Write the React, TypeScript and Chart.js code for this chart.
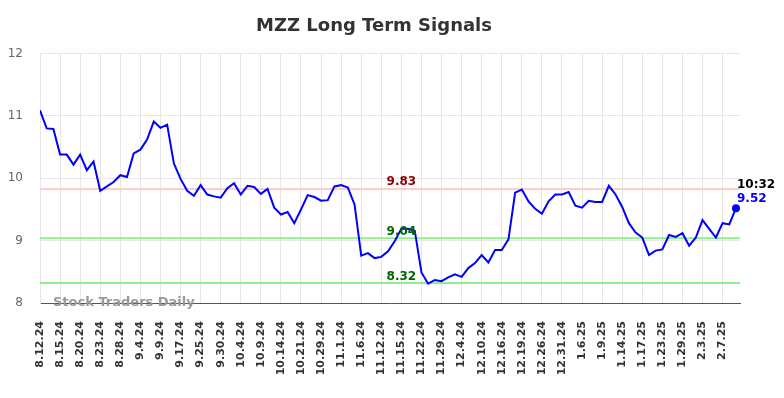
import React, { useEffect, useRef } from "react";
import { Chart, registerables } from "chart.js";

Chart.register(...registerables);

const chartTitle = "MZZ Long Term Signals";
const watermark = "Stock Traders Daily";

const dateLabels = [
  "8.12.24", "8.13.24", "8.14.24", "8.15.24", "8.16.24", "8.19.24", "8.20.24", "8.21.24", "8.22.24", "8.23.24",
  "8.26.24", "8.27.24", "8.28.24", "8.29.24", "9.3.24", "9.4.24", "9.5.24", "9.6.24", "9.9.24", "9.11.24",
  "9.13.24", "9.17.24", "9.19.24", "9.23.24", "9.25.24", "9.26.24", "9.27.24", "9.30.24", "10.1.24", "10.3.24",
  "10.4.24", "10.7.24", "10.8.24", "10.9.24", "10.10.24", "10.11.24", "10.14.24", "10.16.24", "10.18.24", "10.21.24",
  "10.23.24", "10.25.24", "10.29.24", "10.30.24", "10.31.24", "11.1.24", "11.4.24", "11.5.24", "11.6.24", "11.7.24",
  "11.8.24", "11.12.24", "11.13.24", "11.14.24", "11.15.24", "11.18.24", "11.20.24", "11.22.24", "11.25.24", "11.27.24",
  "11.29.24", "12.2.24", "12.3.24", "12.4.24", "12.5.24", "12.9.24", "12.10.24", "12.11.24", "12.13.24", "12.16.24",
  "12.17.24", "12.18.24", "12.19.24", "12.20.24", "12.24.24", "12.26.24", "12.27.24", "12.30.24", "12.31.24", "1.2.25",
  "1.3.25", "1.6.25", "1.7.25", "1.8.25", "1.9.25", "1.10.25", "1.13.25", "1.14.25", "1.15.25", "1.16.25",
  "1.17.25", "1.21.25", "1.22.25", "1.23.25", "1.24.25", "1.27.25", "1.29.25", "1.30.25", "1.31.25", "2.3.25",
  "2.4.25", "2.5.25", "2.7.25", "2.10.25", "2.11.25",
];

const prices = [
  11.09, 10.8, 10.79, 10.38, 10.38, 10.22, 10.38, 10.13, 10.27, 9.8,
  9.87, 9.94, 10.05, 10.02, 10.4, 10.46, 10.62, 10.91, 10.81, 10.86,
  10.24, 9.99, 9.8, 9.72, 9.89, 9.74, 9.71, 9.69, 9.84, 9.92,
  9.74, 9.88, 9.86, 9.75, 9.83, 9.53, 9.42, 9.46, 9.28, 9.5,
  9.73, 9.7, 9.64, 9.65, 9.87, 9.89, 9.85, 9.58, 8.76, 8.8,
  8.72, 8.74, 8.83, 8.99, 9.19, 9.19, 9.16, 8.49, 8.31, 8.37,
  8.35, 8.41, 8.46, 8.42, 8.56, 8.64, 8.77, 8.65, 8.85, 8.85,
  9.02, 9.77, 9.82, 9.63, 9.51, 9.43, 9.63, 9.74, 9.74, 9.78,
  9.56, 9.53, 9.64, 9.62, 9.62, 9.88, 9.74, 9.54, 9.28, 9.13,
  9.05, 8.77, 8.84, 8.86, 9.09, 9.06, 9.12, 8.92, 9.05, 9.33,
  9.19, 9.05, 9.28, 9.26, 9.52,
];

const resistanceLevels = [9.83];
const supportLevels = [9.04, 8.32];
const lastTime = "10:32";
const yMin = 8;
const yMax = 12;
const yStep = 1;
const tickEvery = 3;
const levelLabelIndex = 54;

const FONT = "'DejaVu Sans', sans-serif";

export default function App() {
  const canvasRef = useRef<HTMLCanvasElement | null>(null);

  useEffect(() => {
    if (!canvasRef.current) return;

    const levelsPlugin = {
      id: "levels",
      beforeDatasetsDraw(chart: any) {
        const { ctx, chartArea, scales } = chart;
        const y = scales.y;
        ctx.save();
        const lines = [
          ...resistanceLevels.map((v) => ({ v, c: "#ffcccc" })),
          ...supportLevels.map((v) => ({ v, c: "#90ee90" })),
        ];
        lines.forEach((l) => {
          const py = y.getPixelForValue(l.v);
          ctx.strokeStyle = l.c;
          ctx.lineWidth = 2;
          ctx.beginPath();
          ctx.moveTo(chartArea.left, py);
          ctx.lineTo(chartArea.right, py);
          ctx.stroke();
        });
        ctx.font = `bold 13px ${FONT}`;
        ctx.fillStyle = "#999999";
        ctx.textAlign = "left";
        ctx.textBaseline = "alphabetic";
        ctx.fillText(watermark, chartArea.left + 13, chartArea.bottom + 3);
        ctx.restore();
      },
      afterDatasetsDraw(chart: any) {
        const { ctx, scales } = chart;
        const x = scales.x;
        const y = scales.y;
        ctx.save();
        ctx.font = `bold 12px ${FONT}`;
        ctx.textAlign = "center";
        ctx.textBaseline = "alphabetic";
        const lx = x.getPixelForValue(levelLabelIndex);
        resistanceLevels.forEach((v) => {
          ctx.fillStyle = "#8b0000";
          ctx.fillText(v.toFixed(2), lx, y.getPixelForValue(v) - 3.5);
        });
        supportLevels.forEach((v) => {
          ctx.fillStyle = "#006400";
          ctx.fillText(v.toFixed(2), lx, y.getPixelForValue(v) - 3.5);
        });
        const li = prices.length - 1;
        const px = x.getPixelForValue(li);
        const py = y.getPixelForValue(prices[li]);
        ctx.textAlign = "left";
        ctx.fillStyle = "#000000";
        ctx.fillText(lastTime, px + 1, py - 20);
        ctx.fillStyle = "#0000ff";
        ctx.fillText(prices[li].toFixed(2), px + 1, py - 6);
        ctx.restore();
      },
    };

    const lastIdx = prices.length - 1;

    const chart = new Chart(canvasRef.current, {
      type: "line",
      data: {
        datasets: [
          {
            data: prices.map((v, i) => ({ x: i, y: v })),
            borderColor: "#0000ff",
            backgroundColor: "#0000ff",
            borderWidth: 2,
            tension: 0,
            fill: false,
            pointRadius: (c: any) => (c.dataIndex === lastIdx ? 4 : 0),
            pointBackgroundColor: "#0000ff",
            pointBorderColor: "#0000ff",
            pointBorderWidth: 0,
          },
        ],
      },
      options: {
        animation: false,
        responsive: true,
        maintainAspectRatio: false,
        layout: { padding: { left: 0, right: 36, top: 0, bottom: 0 } },
        plugins: {
          legend: { display: false },
          tooltip: { enabled: false },
          title: {
            display: true,
            text: chartTitle,
            color: "#333333",
            font: { family: FONT, size: 18, weight: "bold" },
            padding: { top: 8, bottom: 16 },
          },
        },
        scales: {
          x: {
            type: "linear",
            min: 0,
            max: lastIdx + 0.6,
            grid: { color: "#e6e6e6", drawTicks: false },
            border: { color: "#555555", width: 1 },
            afterFit: (scale: any) => {
              scale.height = 87;
            },
            ticks: {
              stepSize: tickEvery,
              includeBounds: false,
              autoSkip: false,
              minRotation: 90,
              maxRotation: 90,
              padding: 18,
              color: "#333333",
              font: { family: FONT, size: 11, weight: "bold" },
              callback: (value: any) => {
                const i = Number(value);
                return Number.isInteger(i) && i % tickEvery === 0 && dateLabels[i] ? dateLabels[i] : null;
              },
            },
          },
          y: {
            min: yMin,
            max: yMax,
            grid: { color: "#e6e6e6", drawTicks: false },
            border: { color: "#e6e6e6" },
            afterFit: (scale: any) => {
              scale.width = 32;
            },
            ticks: {
              stepSize: yStep,
              padding: 17,
              color: "#666666",
              font: { family: FONT, size: 12 },
            },
          },
        },
      },
      plugins: [levelsPlugin],
    } as any);

    return () => chart.destroy();
  }, []);

  return (
    <div style={{ width: "768px", height: "382px", position: "relative" }}>
      <canvas ref={canvasRef} />
    </div>
  );
}
